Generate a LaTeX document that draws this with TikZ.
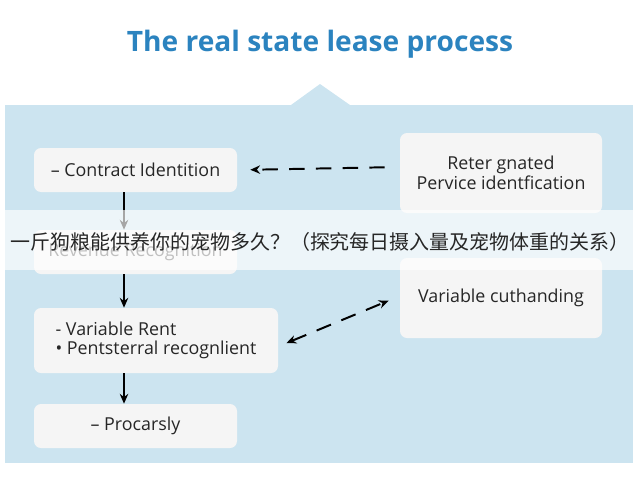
\documentclass[tikz,border=0pt]{standalone}
\usepackage{fontspec}
\setmainfont{Open Sans}
\newfontfamily\cjkfont{Noto Sans CJK SC}
\usepackage{xcolor}
\usetikzlibrary{arrows.meta, positioning}
\definecolor{panelblue}{RGB}{204,228,240}
\definecolor{cardgray}{RGB}{245,245,245}
\definecolor{titleblue}{RGB}{43,131,191}

\begin{document}
\begin{tikzpicture}[
  every node/.style={font=\fontsize{12.7}{14}\selectfont},
  card/.style={rectangle, fill=cardgray, rounded corners=5pt, minimum width=5.075cm,
               minimum height=1.1cm, align=center, inner sep=0pt, text=black!85},
  tallcard/.style={card, minimum width=5.05cm, minimum height=2cm},
  arr/.style={-{Stealth[length=7pt, width=6pt]}, line width=1.4pt},
  darr/.style={arr, dash pattern=on 11pt off 8pt},
]
  \useasboundingbox (0,0) rectangle (16,-12);

  % Background panel
  \fill[panelblue] (0.125,-2.625) rectangle (15.825,-11.575);
  \fill[panelblue] (7.275,-2.625) -- (8.0,-2.1) -- (8.75,-2.625) -- cycle;

  % Title
  \node[font=\fontsize{20}{24}\selectfont\bfseries, text=titleblue] (title) at (8.0,-1.1)
    {The real state lease process};

  % Process boxes
  \node[card] (ci) at (3.3875,-4.25) {– Contract Identition};
  \node[card, text=black!70] (rr) at (3.3875,-6.3) {Revenue Recognition};
  \node[card, minimum width=6.1cm, minimum height=1.625cm, align=left] (vr) at (3.9,-8.5125)
    {- Variable Rent\\• Pentsterral recognlient};
  \node[card] (pc) at (3.3875,-10.65) {– Procarsly};

  % Side boxes
  \node[tallcard] (ps) at (12.525,-4.325) {Reter gnated\\Pervice identfication};
  \node[tallcard] (vc) at (12.525,-7.45) {Variable cuthanding};

  % Arrows
  \coordinate (col) at (3.1,0);
  \draw[arr] (ci.south -| col) -- (rr.north -| col);
  \draw[arr] (rr.south -| col) -- (vr.north -| col);
  \draw[arr] (vr.south -| col) -- (pc.north -| col);

  % Dashed arrows
  \draw[darr, shorten <=0.375cm, shorten >=0.325cm] ([yshift=0.15cm]ps.west) -- (ci.east);
  \draw[darr, {Stealth[length=7pt, width=6pt]}-{Stealth[length=7pt, width=6pt]},
        shorten <=0.22cm, shorten >=0.3cm] ([yshift=-0.15cm]vr.east) -- ([yshift=0.05cm]vc.west);

  % Overlay band
  \fill[white, opacity=0.65] (0,-5.25) rectangle (16,-6.75);
  \node[font=\cjkfont\fontsize{14.2}{16}\selectfont, text=black!85] (band) at (8.0,-6.05)
    {一斤狗粮能供养你的宠物多久？（探究每日摄入量及宠物体重的关系）};
\end{tikzpicture}
\end{document}
